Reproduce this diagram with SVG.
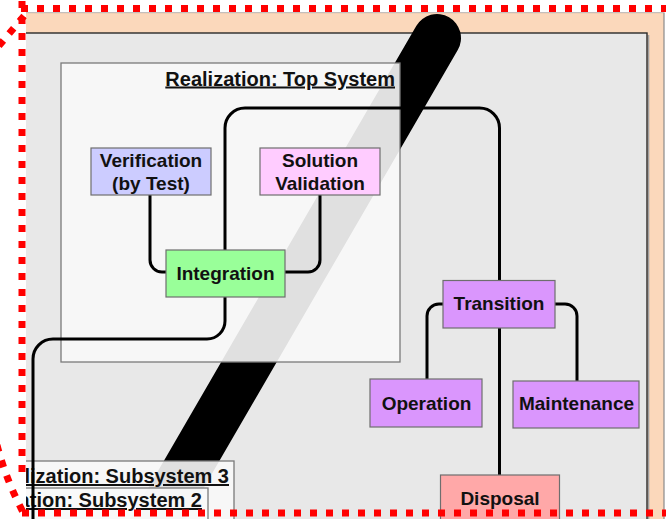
<svg xmlns="http://www.w3.org/2000/svg" width="666" height="519" viewBox="0 0 666 519">
<defs>
<style>
.lbl{font-family:"Liberation Sans",Arial,sans-serif;font-weight:bold;font-size:19px;fill:#111;text-anchor:middle}
.ttl{font-family:"Liberation Sans",Arial,sans-serif;font-weight:bold;font-size:20px;fill:#111;text-anchor:end;text-decoration:underline}
.node{stroke:#6e6e6e;stroke-width:1.2}
.frame{fill:#f8f8f8;fill-opacity:0.9;stroke:#7a7a7a;stroke-width:1.3}
.conn{fill:none;stroke:#000;stroke-width:3;stroke-linecap:round;stroke-linejoin:round}
.dash{fill:none;stroke:#ff0000;stroke-width:7;stroke-dasharray:7 9}
</style>
<clipPath id="c"><rect x="26" y="12.5" width="640" height="507"/></clipPath>
</defs>
<rect width="666" height="519" fill="#ffffff"/>
<g clip-path="url(#c)">
  <g id="background">
    <rect x="20" y="12.5" width="644" height="520" fill="#fbd8bb" stroke="#8a8a8a" stroke-width="1.2"/>
    <line x1="648.5" y1="35" x2="648.5" y2="530" stroke="#a0a0a0" stroke-width="1.6"/>
    <rect x="10" y="33" width="637" height="520" fill="#e8e8e8" stroke="#2a2a2a" stroke-width="1.4"/>
    <line x1="437" y1="38" x2="137" y2="555" stroke="#000" stroke-width="48" stroke-linecap="round"/>
  </g>
  <g id="frame-top">
    <rect class="frame" x="61" y="63" width="339" height="299"/>
    <text class="ttl" x="395" y="85.5">Realization: Top System</text>
  </g>
  <g id="frame-sub3">
    <rect class="frame" x="10" y="461" width="224" height="80"/>
    <text class="ttl" x="229" y="483">lization: Subsystem 3</text>
  </g>
  <g id="frame-sub2">
    <rect class="frame" x="10" y="488" width="198" height="60"/>
    <text class="ttl" x="202" y="507">ation: Subsystem 2</text>
  </g>
  <g id="connectors">
    <path class="conn" d="M150,195 V260 A12,12 0 0 0 162,272 H166"/>
    <path class="conn" d="M320,195 V260 A12,12 0 0 1 308,272 H285"/>
    <path class="conn" d="M225,250 V128 A20,20 0 0 1 245,108 H479.5 A20,20 0 0 1 499.5,128 V280"/>
    <path class="conn" d="M225,297 V321 A18,18 0 0 1 207,339 H53 A20,20 0 0 0 33,359 V530"/>
    <path class="conn" d="M443,304 H439 A12,12 0 0 0 427,316 V379"/>
    <path class="conn" d="M555,304 H565 A12,12 0 0 1 577,316 V381"/>
    <path class="conn" d="M499.5,328 V475"/>
  </g>
  <g id="verification">
    <rect class="node" x="91" y="148" width="120" height="47" fill="#ccccff"/>
    <text class="lbl" x="151" y="166.5">Verification</text>
    <text class="lbl" x="151" y="189.5">(by Test)</text>
  </g>
  <g id="validation">
    <rect class="node" x="260" y="148" width="120" height="47" fill="#ffccff"/>
    <text class="lbl" x="320" y="166.5">Solution</text>
    <text class="lbl" x="320" y="189.5">Validation</text>
  </g>
  <g id="integration">
    <rect class="node" x="166" y="250" width="119" height="47" fill="#99ff99"/>
    <text class="lbl" x="225.5" y="279.5">Integration</text>
  </g>
  <g id="transition">
    <rect class="node" x="443" y="280.5" width="112" height="47.5" fill="#da96fd"/>
    <text class="lbl" x="499" y="310">Transition</text>
  </g>
  <g id="operation">
    <rect class="node" x="370" y="379" width="112" height="48" fill="#da96fd"/>
    <text class="lbl" x="426.5" y="409.5">Operation</text>
  </g>
  <g id="maintenance">
    <rect class="node" x="513" y="381" width="126" height="47" fill="#da96fd"/>
    <text class="lbl" x="576.5" y="410">Maintenance</text>
  </g>
  <g id="disposal">
    <rect class="node" x="440.5" y="475" width="119" height="60" fill="#ffa8a8"/>
    <text class="lbl" x="500" y="505">Disposal</text>
  </g>
</g>
<g id="red-border">
  <path class="dash" d="M21,8.5 H670"/>
  <path class="dash" d="M22,1 V480"/>
  <path class="dash" d="M22,513 H670"/>
  <path class="dash" d="M24,16 L-8,54"/>
  <path class="dash" d="M-3,445 Q6,480 24,514"/>
</g>
</svg>
